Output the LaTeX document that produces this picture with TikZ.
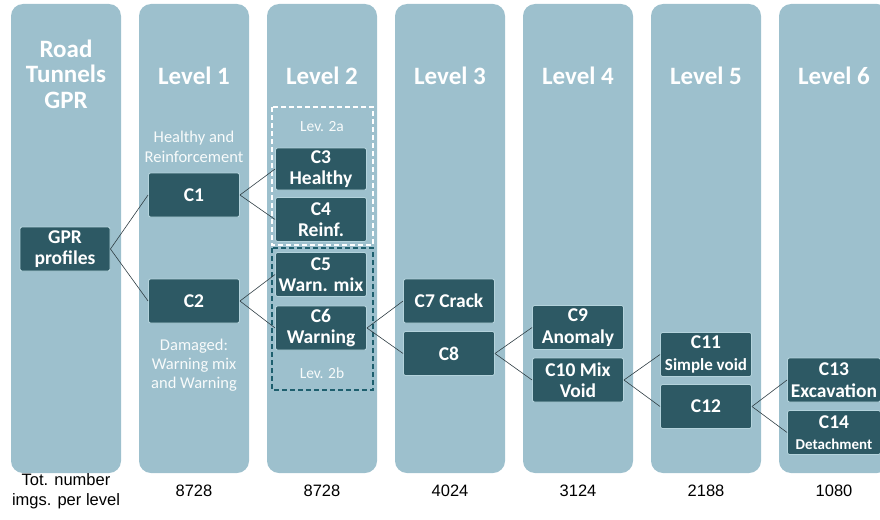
\documentclass[tikz,border=0pt]{standalone}
\usepackage{fontspec}
\setmainfont{Carlito}
\newfontfamily\arialfont{Liberation Sans}
\usepackage{xcolor}
\usetikzlibrary{positioning,calc}
\definecolor{colbg}{HTML}{9DC0CD}
\definecolor{boxbg}{HTML}{2D5964}
\definecolor{boxline}{HTML}{B4D3DC}
\definecolor{lev2b}{HTML}{1E5F6E}
\definecolor{linkc}{HTML}{2F3E44}

\begin{document}
\begin{tikzpicture}[x=1pt, y=-1pt,
    column/.style={draw=none, fill=colbg, rounded corners=12pt, minimum width=110pt, minimum height=469pt, inner sep=0pt},
    title/.style={text=white, font=\bfseries\fontsize{25}{25.5}\selectfont, align=center},
    note/.style={text=white!93!colbg, font=\fontsize{16.5}{19}\selectfont, align=center},
    cls/.style={draw=boxline, line width=0.9pt, fill=boxbg, text=white, rounded corners=2pt, minimum width=91pt, minimum height=44pt, inner sep=1pt, align=center, font=\bfseries\fontsize{19.5}{21.5}\selectfont},
    count/.style={font=\arialfont\fontsize{16.5}{20}\selectfont, align=center},
    link/.style={draw=linkc, line width=0.6pt}]
    \clip (0,0) rectangle (880,519);
    \useasboundingbox (0,0) rectangle (880,519);

    \node [column] (col0) at (66,238.5) {};
    \node [column] (col1) at (194,238.5) {};
    \node [column] (col2) at (322,238.5) {};
    \node [column] (col3) at (450,238.5) {};
    \node [column] (col4) at (578,238.5) {};
    \node [column] (col5) at (706,238.5) {};
    \node [column] (col6) at (834,238.5) {};

    \node [title] (t0) at (66,74) {Road\\Tunnels\\GPR};
    \node [title] (t1) at (194,76) {Level 1};
    \node [title] (t2) at (322,76) {Level 2};
    \node [title] (t3) at (450,76) {Level 3};
    \node [title] (t4) at (578,76) {Level 4};
    \node [title] (t5) at (706,76) {Level 5};
    \node [title] (t6) at (834,76) {Level 6};

    \draw [white, dashed, line width=1.6pt, dash pattern=on 5pt off 3pt] (272,107) rectangle (373,245);
    \draw [lev2b, dashed, line width=1.8pt, dash pattern=on 5pt off 3pt] (272,248) rectangle (373,390);
    \node [note, font=\fontsize{15.5}{17}\selectfont] (l2a) at (322,127) {Lev. 2a};
    \node [note, font=\fontsize{15.5}{17}\selectfont] (l2b) at (322,373) {Lev. 2b};

    \node [note, font=\fontsize{16.5}{20}\selectfont] (n1) at (194,147) {Healthy and\\Reinforcement};
    \node [note] (n2) at (194,365) {Damaged:\\Warning mix\\and Warning};

    \node [cls, minimum width=90pt] (gpr) at (65,249) {GPR\\profiles};
    \node [cls] (c1) at (194,195) {C1};
    \node [cls] (c2) at (194,301) {C2};
    \node [cls, minimum height=42pt] (c3) at (321,169) {C3\\Healthy};
    \node [cls] (c4) at (321,219.5) {C4\\Reinf.};
    \node [cls] (c5) at (321,274.5) {C5\\Warn. mix};
    \node [cls] (c6) at (321,328) {C6\\Warning};
    \node [cls] (c7) at (449,301) {C7 Crack};
    \node [cls] (c8) at (449,353.5) {C8};
    \node [cls] (c9) at (578,327.5) {C9\\Anomaly};
    \node [cls] (c10) at (578,380) {C10 Mix\\Void};
    \node [cls] (c11) at (706,354.5) {C11\\\fontsize{17}{19}\selectfont Simple void};
    \node [cls] (c12) at (706,406.5) {C12};
    \node [cls, minimum width=93pt] (c13) at (834,380) {C13\\Excavation};
    \node [cls, minimum width=93pt] (c14) at (834,432.5) {C14\\\fontsize{15}{18}\selectfont Detachment};

    \draw [link] (gpr.east) -- (c1.west);
    \draw [link] (gpr.east) -- (c2.west);
    \draw [link] (c1.east) -- (c3.west);
    \draw [link] (c1.east) -- (c4.west);
    \draw [link] (c2.east) -- (c5.west);
    \draw [link] (c2.east) -- (c6.west);
    \draw [link] (c6.east) -- (c7.west);
    \draw [link] (c6.east) -- (c8.west);
    \draw [link] (c8.east) -- (c9.west);
    \draw [link] (c8.east) -- (c10.west);
    \draw [link] (c10.east) -- (c11.west);
    \draw [link] (c10.east) -- (c12.west);
    \draw [link] (c12.east) -- (c13.west);
    \draw [link] (c12.east) -- (c14.west);

    \node [count] (tot) at (66,491) {Tot. number\\imgs. per level};
    \node [count] (k1) at (194,491) {8728};
    \node [count] (k2) at (322,491) {8728};
    \node [count] (k3) at (450,491) {4024};
    \node [count] (k4) at (578,491) {3124};
    \node [count] (k5) at (706,491) {2188};
    \node [count] (k6) at (834,491) {1080};
\end{tikzpicture}
\end{document}
